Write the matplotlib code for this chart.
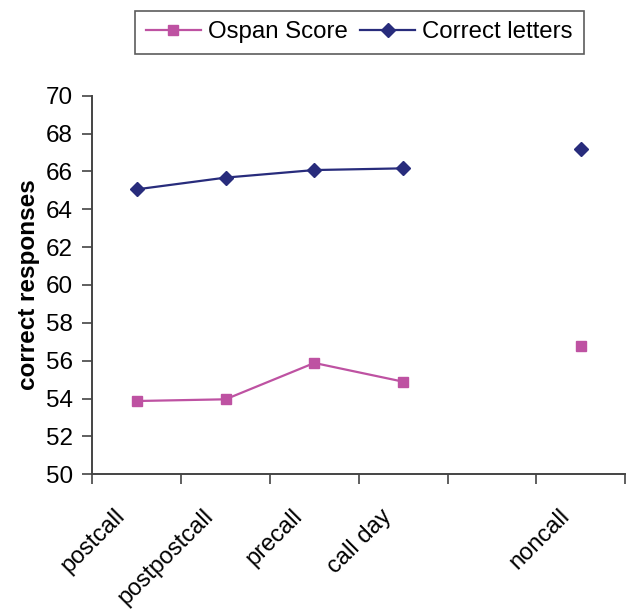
import matplotlib
matplotlib.use("Agg")
import matplotlib.pyplot as plt
import matplotlib.transforms as mtransforms
import numpy as np

plt.rcParams['font.family'] = ['Liberation Sans', 'DejaVu Sans']

categories = ["postcall", "postpostcall", "precall", "call day", "", "noncall"]
ospan_score = [53.87, 53.96, 55.88, 54.89, np.nan, 56.78]
correct_letters = [65.05, 65.67, 66.07, 66.16, np.nan, 67.17]
y_ticks = [50, 52, 54, 56, 58, 60, 62, 64, 66, 68, 70]

ospan_color = "#BE52A2"
letters_color = "#282C7C"
axis_color = "#444444"

fig = plt.figure(figsize=(6.26, 6.10), dpi=100)
ax = fig.add_axes([0.1474, 0.2225, 0.8514, 0.6207])

x = np.arange(len(categories)) + 0.5
ax.plot(x, ospan_score, color=ospan_color, lw=1.6, marker="s", ms=7.5,
        label="Ospan Score")
ax.plot(x, correct_letters, color=letters_color, lw=1.6, marker="D", ms=7,
        label="Correct letters")

ax.set_xlim(0, len(categories))
ax.set_ylim(50, 70)
ax.set_yticks(y_ticks)
ax.set_yticklabels([str(v) for v in y_ticks], fontsize=17.5)

# category boundaries carry the tick marks, centres carry the labels
ax.set_xticks(np.arange(len(categories) + 1))
ax.set_xticklabels([])
ax.set_xticks(x, minor=True)
ax.set_xticklabels(categories, minor=True, rotation=45, ha="right",
                   va="center", rotation_mode="anchor", fontsize=17)
ax.tick_params(axis="x", which="minor", length=0, pad=22)
ax.tick_params(axis="x", which="major", length=7, width=1.2, color=axis_color)
ax.tick_params(axis="y", length=7, width=1.2, color=axis_color, pad=7)

shift = mtransforms.ScaledTranslation(-0.15, -0.08, fig.dpi_scale_trans)
for lbl in ax.get_xticklabels(minor=True):
    lbl.set_transform(lbl.get_transform() + shift)

for side in ("top", "right"):
    ax.spines[side].set_visible(False)
for side in ("left", "bottom"):
    ax.spines[side].set_color(axis_color)
    ax.spines[side].set_linewidth(1.4)

ax.set_ylabel("correct responses", fontsize=17.5, fontweight="bold", labelpad=4)

leg = fig.legend(loc="center", bbox_to_anchor=(0.574, 0.947), ncol=2,
                 fontsize=17.3, frameon=True, fancybox=False, edgecolor="#333333",
                 handlelength=2.3, handletextpad=0.3, columnspacing=0.5,
                 borderpad=0.45, borderaxespad=0)
leg.get_frame().set_linewidth(1.2)

fig.savefig("out.png", dpi=100)
